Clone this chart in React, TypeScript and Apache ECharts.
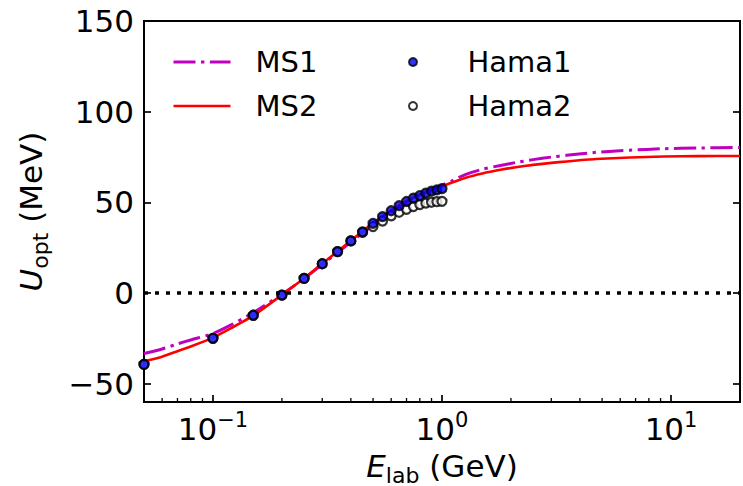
import React, { useEffect, useRef } from 'react';
import * as echarts from 'echarts';

// ---- data ----
const hamaE = [0.05, 0.1, 0.15, 0.2, 0.25, 0.3, 0.35, 0.4, 0.45, 0.5, 0.55, 0.6, 0.65, 0.7, 0.75, 0.8, 0.85, 0.9, 0.95, 1.0];
const hama1U = [-39.3, -24.9, -12.2, -1.1, 8.1, 16.2, 22.9, 28.8, 33.8, 38.5, 42.2, 45.4, 48.2, 50.5, 52.4, 53.8, 55.1, 56.2, 56.9, 57.6];
const hama2U = [-39.3, -24.9, -12.2, -1.1, 8.1, 16.2, 22.9, 28.8, 33.5, 36.7, 39.7, 42.6, 44.6, 46.2, 47.7, 48.8, 49.6, 50.1, 50.4, 50.6];

const curveE = [0.05, 0.06, 0.07, 0.08, 0.1, 0.12, 0.15, 0.2, 0.25, 0.3, 0.35, 0.4, 0.5, 0.6, 0.7, 0.8, 0.9, 1.0, 1.1, 1.28, 1.5, 1.8, 2.1, 2.5, 3.0, 3.5, 4.7, 6.6, 9.3, 13, 20];
const ms1U = [-33.3, -30.8, -28.0, -25.8, -22.3, -17.5, -10.8, -0.6, 8.0, 15.8, 22.4, 28.1, 37.6, 44.7, 50.1, 54.3, 57.2, 59.5, 61.8, 65.6, 68.3, 70.4, 72.0, 73.6, 75.0, 76.0, 77.6, 78.8, 79.6, 80.0, 80.3];
const ms2U = [-37.6, -35.0, -32.0, -29.4, -24.5, -19.3, -12.4, -1.0, 8.2, 16.3, 23.0, 28.9, 38.6, 45.6, 50.8, 54.4, 56.9, 58.9, 60.8, 63.8, 66.0, 68.0, 69.4, 70.7, 71.8, 72.6, 73.9, 74.8, 75.3, 75.5, 75.6];

const xRange = [0.05, 20];
const yRange = [-60, 150];
const yTicks = [-50, 0, 50, 100, 150];
const xMajorTicks = [0.1, 1, 10];
const xMinorTicks = [0.06, 0.07, 0.08, 0.09, 0.2, 0.3, 0.4, 0.5, 0.6, 0.7, 0.8, 0.9, 2, 3, 4, 5, 6, 7, 8, 9];

const FONT = 'DejaVu Sans';

export default function App() {
  const ref = useRef<HTMLDivElement>(null);

  useEffect(() => {
    if (!ref.current) return;
    const chart = echarts.init(ref.current, null, { renderer: 'svg' });

    const nameRich = {
      e: { fontFamily: FONT, fontSize: 31, fontStyle: 'italic', lineHeight: 40, color: '#000' },
      sub: { fontFamily: FONT, fontSize: 22, lineHeight: 17, verticalAlign: 'bottom', color: '#000' },
      n: { fontFamily: FONT, fontSize: 31, lineHeight: 40, color: '#000' },
    };
    const supRich = {
      b: { fontFamily: FONT, fontSize: 31, lineHeight: 40, color: '#000' },
      s: { fontFamily: FONT, fontSize: 21, lineHeight: 19, verticalAlign: 'top', color: '#000' },
    };
    const tickStyle = { color: '#000', width: 1.7 };

    const option: any = {
      animation: false,
      backgroundColor: '#ffffff',
      textStyle: { fontFamily: FONT, color: '#000' },
      grid: {
        left: 144, top: 21, width: 596, height: 381,
        show: true, borderColor: '#000', borderWidth: 2, backgroundColor: 'transparent',
        containLabel: false, outerBoundsMode: 'none',
      },
      legend: [
        {
          data: [
            { name: 'MS1', itemStyle: { opacity: 0 } },
            { name: 'MS2', itemStyle: { opacity: 0 } },
          ],
          orient: 'vertical', left: 172, top: 44, padding: 0,
          itemWidth: 57, itemHeight: 14, itemGap: 8,
          selectedMode: false,
          lineStyle: { width: 'inherit', type: 'inherit' },
          textStyle: { fontFamily: FONT, fontSize: 29, color: '#000', lineHeight: 36, padding: [0, 0, 0, 20] },
        },
        {
          data: ['Hama1', 'Hama2'],
          orient: 'vertical', left: 408, top: 44, padding: 0,
          itemWidth: 57, itemHeight: 8, itemGap: 8,
          selectedMode: false,
          textStyle: { fontFamily: FONT, fontSize: 29, color: '#000', lineHeight: 36, padding: [0, 0, 0, 21] },
        },
      ],
      xAxis: {
        type: 'log', logBase: 10, min: xRange[0], max: xRange[1],
        axisLine: { show: false, onZero: false },
        splitLine: { show: false },
        minorTick: { show: false },
        axisTick: { show: true, inside: true, length: 7, lineStyle: tickStyle, customValues: xMajorTicks },
        axisLabel: {
          customValues: xMajorTicks,
          margin: 7,
          formatter: (v: number) => {
            const ex = Math.round(Math.log10(v));
            if (Math.abs(Math.log10(v) - ex) > 1e-6) return '';
            const s = ex < 0 ? '\u2212' + Math.abs(ex) : String(ex);
            return '{b|10}{s|' + s + '}';
          },
          rich: supRich,
        },
        name: '{e|E}{sub|lab}{n| (GeV)}',
        nameLocation: 'middle',
        nameGap: 44,
        nameTextStyle: { rich: nameRich },
      },
      yAxis: [
        {
          type: 'value', min: yRange[0], max: yRange[1], position: 'left',
          axisLine: { show: false, onZero: false },
          splitLine: { show: false },
          axisTick: { show: true, inside: true, length: 7, lineStyle: tickStyle, customValues: yTicks },
          axisLabel: {
            customValues: yTicks,
            margin: 10,
            fontFamily: FONT, fontSize: 31, color: '#000',
            formatter: (v: number) => (v < 0 ? '\u2212' + Math.abs(v) : String(v)),
          },
          name: '{e|U}{sub|opt}{n| (MeV)}',
          nameLocation: 'middle',
          nameRotate: 90,
          nameGap: 93,
          nameTextStyle: { rich: nameRich },
        },
        {
          type: 'value', min: yRange[0], max: yRange[1], position: 'right',
          axisLine: { show: false, onZero: false },
          splitLine: { show: false },
          axisTick: { show: true, inside: true, length: 7, lineStyle: tickStyle, customValues: yTicks },
          axisLabel: { show: false, customValues: yTicks },
        },
      ],
      series: [
        {
          name: 'MS1', type: 'line', z: 2,
          data: curveE.map((e, i) => [e, ms1U[i]]),
          symbol: 'none', smooth: 0.2,
          lineStyle: { color: '#bf00bf', width: 3, type: [22, 5.5, 3.4, 5.5] },
          itemStyle: { color: '#bf00bf' },
          markLine: {
            silent: true, symbol: 'none', label: { show: false },
            lineStyle: { color: '#000', type: [4, 7], width: 3.5 },
            emphasis: { disabled: true },
            data: [{ yAxis: 0 }],
          },
        },
        {
          name: 'MS2', type: 'line', z: 2,
          data: curveE.map((e, i) => [e, ms2U[i]]),
          symbol: 'none', smooth: 0.2,
          lineStyle: { color: '#ff0000', width: 2.6, type: 'solid' },
          itemStyle: { color: '#ff0000' },
        },
        {
          name: 'Hama2', type: 'scatter', z: 3,
          data: hamaE.map((e, i) => [e, hama2U[i]]),
          symbol: 'circle', symbolSize: 9,
          itemStyle: { color: '#ffffff', borderColor: '#000', borderWidth: 2.2 },
        },
        {
          name: 'Hama1', type: 'scatter', z: 4,
          data: hamaE.map((e, i) => [e, hama1U[i]]),
          symbol: 'circle', symbolSize: 9,
          itemStyle: { color: '#0000ff', borderColor: '#000', borderWidth: 2.2 },
        },
        {
          name: 'minorTicks', type: 'custom', z: 5, silent: true, clip: false,
          data: xMinorTicks.map((v) => [v, yRange[0]]),
          encode: { x: 0, y: 1 },
          renderItem: (params: any, api: any) => {
            const p = api.coord([api.value(0), api.value(1)]);
            return {
              type: 'line',
              shape: { x1: p[0], y1: p[1], x2: p[0], y2: p[1] - 4 },
              style: { stroke: '#000', lineWidth: 1.3 },
            };
          },
        },
      ],
    };

    chart.setOption(option);
    return () => chart.dispose();
  }, []);

  return (
    <div
      ref={ref}
      style={{ position: 'absolute', left: 0, top: 0, width: 743, height: 486, background: '#fff' }}
    />
  );
}
